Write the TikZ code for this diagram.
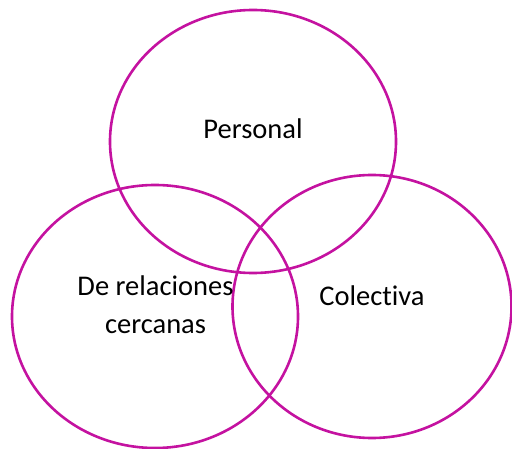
\documentclass[tikz,border=0pt]{standalone}
\usepackage{fontspec}
\setmainfont{Carlito}[Ligatures={NoCommon}]
\definecolor{venn}{RGB}{196,18,160}
\begin{document}
\begin{tikzpicture}[x=1pt,y=-1pt,
  ring/.style={draw=venn,line width=2.6pt},
  lbl/.style={font=\fontsize{28.5}{38}\selectfont,text=black,align=center}]
\useasboundingbox (0,0) rectangle (512,449);
\draw[ring] (253,141.5) ellipse [x radius=143,y radius=131.5];
\draw[ring] (155,316.5) ellipse [x radius=143,y radius=131.5];
\draw[ring] (372,306.5) ellipse [x radius=139.5,y radius=131.5];
\node[lbl,anchor=base] (p) at (253,139) {Personal};
\node[lbl,anchor=base] (d) at (155.5,296) {De relaciones};
\node[lbl,anchor=base] (c) at (155.5,334) {cercanas};
\node[lbl,anchor=base] (k) at (372,306) {Colectiva};
\end{tikzpicture}
\end{document}
